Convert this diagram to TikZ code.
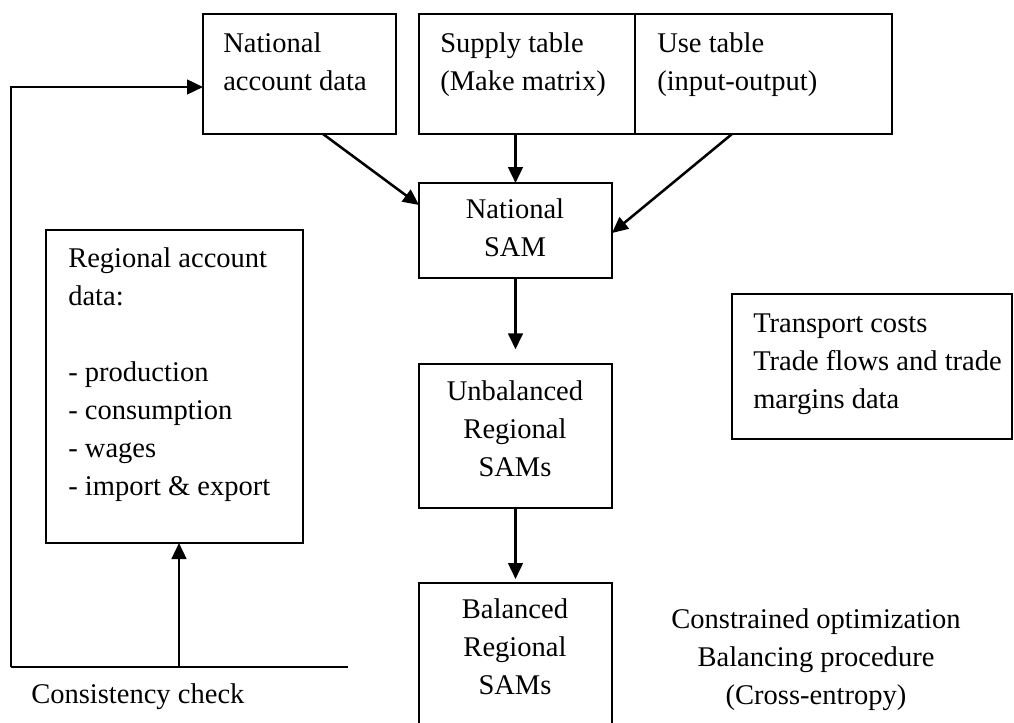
\documentclass[tikz,border=0pt]{standalone}
\usepackage{fontspec}
\setmainfont{Liberation Serif}
\usetikzlibrary{arrows.meta}
\begin{document}
\begin{tikzpicture}[x=0.75pt,y=-0.75pt,
  box/.style={draw,line width=1.4pt,anchor=north west,inner sep=0pt,outer sep=0pt},
  txt/.style={font=\fontsize{21.4pt}{28.5pt}\selectfont,inner sep=0pt,align=left,anchor=base west},
  ctxt/.style={font=\fontsize{21.4pt}{28.5pt}\selectfont,inner sep=0pt,align=center,anchor=base},
  arr/.style={line width=1.9pt,-{Triangle[length=12pt,width=11pt]}},
  ln/.style={line width=1.9pt}]
\useasboundingbox (0,0) rectangle (1014,722);
\clip (0,0) rectangle (1014,722);
% boxes
\node[box,minimum width=144.75pt,minimum height=90pt] (nad) at (203,14) {};
\node[box,minimum width=162pt,minimum height=90pt] (sup) at (419,14) {};
\node[box,minimum width=192.75pt,minimum height=90pt] (use) at (635,14) {};
\node[box,minimum width=144.75pt,minimum height=71.25pt] (nsam) at (419,183) {};
\node[box,minimum width=192.75pt,minimum height=234.75pt] (reg) at (46,230) {};
\node[box,minimum width=144.75pt,minimum height=108pt] (unb) at (419,364) {};
\node[box,minimum width=144.75pt,minimum height=160pt] (bal) at (419,583) {};
\node[box,minimum width=210pt,minimum height=108.75pt] (trans) at (732,294) {};
% texts (anchor = baseline of last line)
\node[txt] (tnad) at (223,90) {National\\account data};
\node[txt] (tsup) at (440,90) {Supply table\\(Make matrix)};
\node[txt] (tuse) at (657,90) {Use table\\(input-output)};
\node[ctxt] (tnsam) at (515,256) {National\\SAM};
\node[txt] (treg) at (68,495) {Regional account\\data:\\[28.5pt]- production\\- consumption\\- wages\\- import \& export};
\node[ctxt] (tunb) at (515,476) {Unbalanced\\Regional\\SAMs};
\node[ctxt] (tbal) at (515,694) {Balanced\\Regional\\SAMs};
\node[txt] (ttrans) at (753,408) {Transport costs\\Trade flows and trade\\margins data};
\node[ctxt] (tcon) at (816,704) {Constrained optimization\\Balancing procedure\\(Cross-entropy)};
\node[txt] (tcheck) at (31,703) {Consistency check};
% connectors
\draw[arr] (323,0 |- nad.south) -- (nsam.west |- 0,205);
\draw[arr] (nsam.north |- sup.south) -- (nsam.north);
\draw[arr] (732,0 |- use.south) -- (nsam.east |- 0,233);
\draw[arr] (nsam.south) -- ([yshift=11pt]unb.north);
\draw[arr] (unb.south) -- ([yshift=3pt]bal.north);
% consistency feedback
\coordinate (fb) at (11,667);
\coordinate (cr) at (348,667);
\draw[ln] (fb) -- (cr);
\draw[arr] (fb) |- (nad.west |- 0,87);
\draw[arr] (179,0 |- fb) -- (179,0 |- reg.south);
\end{tikzpicture}
\end{document}
